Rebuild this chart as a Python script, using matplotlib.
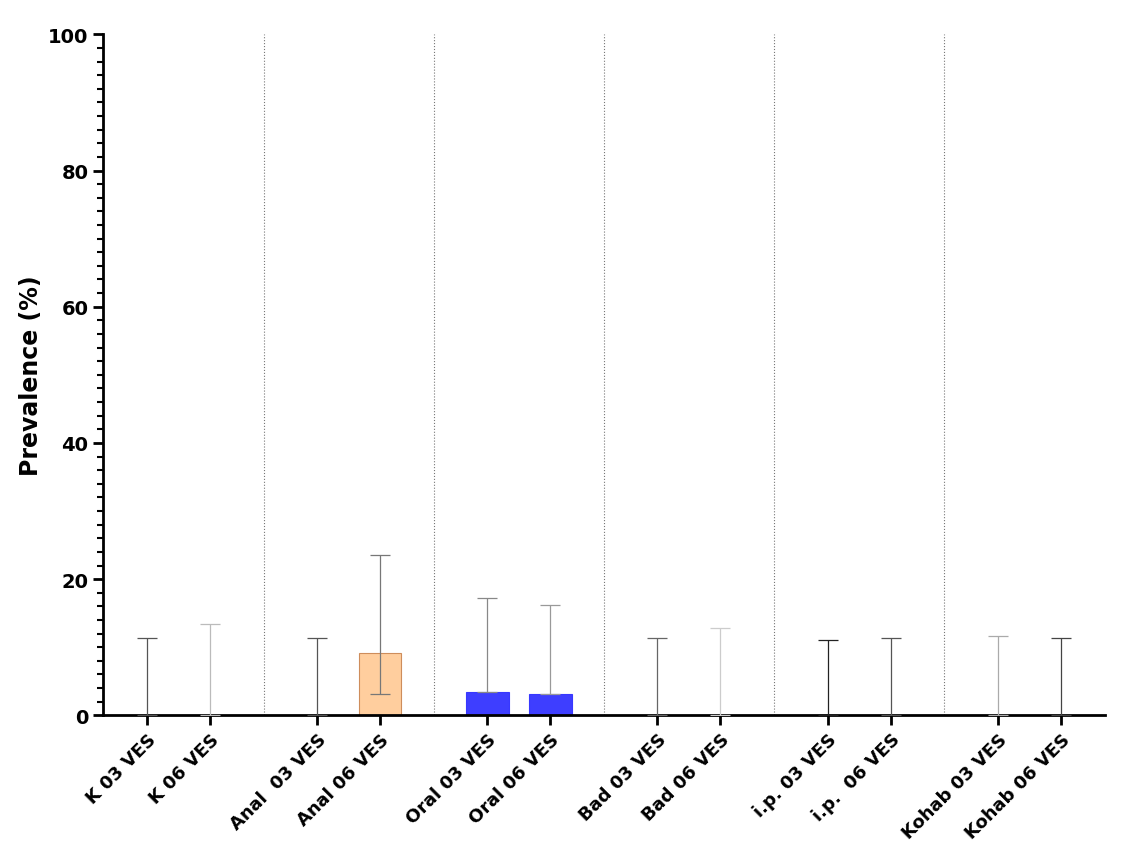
import matplotlib.pyplot as plt
from matplotlib.ticker import MultipleLocator

labels = ['K 03 VES', 'K 06 VES', 'Anal  03 VES', 'Anal 06 VES', 'Oral 03 VES', 'Oral 06 VES',
          'Bad 03 VES', 'Bad 06 VES', 'i.p. 03 VES', 'i.p.  06 VES', 'Kohab 03 VES', 'Kohab 06 VES']
values = [0, 0, 0, 9.2, 3.4, 3.2, 0, 0, 0, 0, 0, 0]
err_low = [0, 0, 0, 6.1, 0, 0, 0, 0, 0, 0, 0, 0]
err_high = [11.3, 13.4, 11.3, 14.3, 13.9, 13.0, 11.3, 12.8, 11.1, 11.3, 11.6, 11.3]
bar_colors = ['white', 'white', 'white', '#ffcc99', '#3333ff', '#3333ff',
              'white', 'white', 'white', 'white', 'white', 'white']
err_colors = ['#555555', '#bbbbbb', '#555555', '#777777', '#888888', '#999999',
              '#666666', '#cccccc', '#222222', '#555555', '#aaaaaa', '#444444']

pos = [(i // 2) * 2.7 + (i % 2) for i in range(len(labels))]

fig = plt.figure(figsize=(11.46, 8.62), dpi=100)
ax = fig.add_axes([0.09, 0.169, 0.874, 0.79])

for i in range(len(labels)):
    if values[i] > 0:
        ax.bar(pos[i], values[i], width=0.67, color=bar_colors[i],
               edgecolor='#cc8855' if bar_colors[i] == '#ffcc99' else bar_colors[i],
               linewidth=0.8, alpha=0.95, zorder=2)
    ax.errorbar(pos[i], values[i], yerr=[[err_low[i]], [err_high[i]]], fmt='none',
                ecolor=err_colors[i], elinewidth=0.9, capsize=7, capthick=0.9, zorder=3)

for k in range(1, 6):
    ax.axvline(k * 2.7 - 0.85, color='#777777', linestyle=':', linewidth=0.8, zorder=1)

ax.set_xlim(-0.7, 15.2)
ax.set_ylim(0, 100)
ax.set_xticks(pos)
ax.set_xticklabels(labels, rotation=45, ha='right', rotation_mode='anchor',
                   fontsize=13, fontweight='bold')
ax.yaxis.set_major_locator(MultipleLocator(20))
ax.yaxis.set_minor_locator(MultipleLocator(2))
for t in ax.get_yticklabels():
    t.set_fontweight('bold')
ax.tick_params(axis='y', labelsize=14, width=2, length=7)
ax.tick_params(axis='y', which='minor', width=1.5, length=4)
ax.tick_params(axis='x', width=2, length=7)
ax.set_ylabel('Prevalence (%)', fontsize=17, fontweight='bold')
ax.spines['top'].set_visible(False)
ax.spines['right'].set_visible(False)
ax.spines['left'].set_linewidth(2)
ax.spines['bottom'].set_linewidth(2)

plt.savefig('out.png', dpi=100)
